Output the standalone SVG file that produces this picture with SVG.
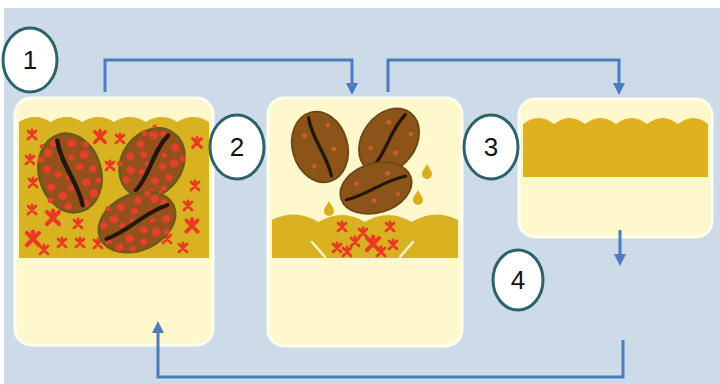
<svg xmlns="http://www.w3.org/2000/svg" xmlns:xlink="http://www.w3.org/1999/xlink" width="720" height="384" viewBox="0 0 720 384">
  <style>
    .panel { fill: #cddbe8; }
    .box { fill: #fff8cc; stroke: #fffdf0; stroke-width: 3; }
    .liquid { fill: #d9b222; }
    .liquid3 { fill: #dfb11f; }
    .conn { fill: none; stroke: #4a7cc2; stroke-width: 3; }
    .badge { fill: #ffffff; stroke: #2b6468; stroke-width: 3; }
    .num { font-family: "Liberation Sans", Arial, sans-serif; font-size: 26px; fill: #111111; text-anchor: middle; }
    .cross { fill: none; stroke: #ea3a24; stroke-width: 2.8; stroke-linecap: round; }
    .drop { fill: #d8ad22; }
    .splash { fill: none; stroke: #fff4c6; stroke-width: 2.5; stroke-linecap: round; }
  </style>
  <defs>
    <marker id="head" markerUnits="userSpaceOnUse" markerWidth="14" markerHeight="14" refX="7" refY="6" orient="auto">
      <path d="M0,0 L12,6 L0,12 Z" fill="#4a7cc2"/>
    </marker>
    <!-- red cross mark -->
    <path id="x" class="cross" d="M-4,-4 L4,4 M4,-4 L-4,4 M0,-5 L0,-3"/>
    <!-- soaked bean: brown with many red spots -->
    <g id="beanRed">
      <ellipse rx="28" ry="38" fill="#96501c" stroke="#6d5a18" stroke-width="2.5"/>
      <g fill="#e4402a">
        <circle cx="-14" cy="-24" r="4"/><circle cx="-19" cy="-9" r="3.6"/><circle cx="-7" cy="-31" r="3.2"/>
        <circle cx="9" cy="-27" r="3.8"/><circle cx="17" cy="-13" r="4"/><circle cx="21" cy="2" r="3.4"/>
        <circle cx="-20" cy="8" r="3.6"/><circle cx="-12" cy="19" r="4"/><circle cx="12" cy="13" r="3.8"/>
        <circle cx="16" cy="25" r="3.8"/><circle cx="-10" cy="30" r="3.4"/><circle cx="6" cy="32" r="3.2"/>
        <circle cx="-11" cy="-2" r="3.4"/><circle cx="10" cy="-3" r="3.4"/><circle cx="-3" cy="14" r="2.8"/>
        <circle cx="21" cy="-22" r="2.8"/><circle cx="-22" cy="-20" r="2.8"/><circle cx="-4" cy="-18" r="2.6"/>
        <circle cx="5" cy="-14" r="2.6"/><circle cx="-24" cy="20" r="2.6"/><circle cx="23" cy="14" r="2.6"/>
        <circle cx="3" cy="22" r="2.6"/><circle cx="-18" cy="-32" r="2"/><circle cx="-3" cy="4" r="2.4"/>
      </g>
      <path d="M-3,-33 C-6,-10 5,10 3,33" fill="none" stroke="#22170a" stroke-width="4" stroke-linecap="round"/>
    </g>
    <!-- dry bean: brown with a few spots -->
    <g id="beanDry">
      <ellipse rx="28" ry="38" fill="#8c5418" stroke="#6b4a16" stroke-width="2"/>
      <g fill="#c7602a">
        <circle cx="-12" cy="-16" r="2.6"/><circle cx="13" cy="6" r="2.6"/>
        <circle cx="-11" cy="18" r="2.4"/><circle cx="14" cy="-20" r="2.4"/>
      </g>
      <path d="M-3,-33 C-6,-10 5,10 3,33" fill="none" stroke="#22170a" stroke-width="3.5" stroke-linecap="round"/>
    </g>
    <path id="drop" class="drop" d="M0,-8 C2,-4 5,-1 5,2 A5,5 0 0 1 -5,2 C-5,-1 -2,-4 0,-8 Z"/>
  </defs>

  <rect width="720" height="384" fill="#ffffff"/>
  <rect class="panel" x="4" y="8" width="716" height="376"/>

  <!-- stage 1: beans soaking -->
  <g id="stage1">
    <rect class="box" x="15" y="98" width="198" height="247" rx="16"/>
    <path class="liquid" d="M19,258 L19,122 Q34.8,112 50.7,122 Q66.5,112 82.3,122 Q98.2,112 114,122 Q129.8,112 145.7,122 Q161.5,112 177.3,122 Q193.2,112 209,122 L209,258 Z"/>
    <g>
      <use href="#x" transform="translate(32,135)"/>
      <use href="#x" transform="translate(100,137) scale(1.3)"/>
      <use href="#x" transform="translate(120,139)"/>
      <use href="#x" transform="translate(197,143) scale(1.1)"/>
      <use href="#x" transform="translate(30,160)"/>
      <use href="#x" transform="translate(110,166)"/>
      <use href="#x" transform="translate(33,183)"/>
      <use href="#x" transform="translate(195,186)"/>
      <use href="#x" transform="translate(188,206)"/>
      <use href="#x" transform="translate(32,210)"/>
      <use href="#x" transform="translate(53,218) scale(1.5)"/>
      <use href="#x" transform="translate(78,224)"/>
      <use href="#x" transform="translate(192,226) scale(1.4)"/>
      <use href="#x" transform="translate(33,239) scale(1.5)"/>
      <use href="#x" transform="translate(62,243)"/>
      <use href="#x" transform="translate(80,243)"/>
      <use href="#x" transform="translate(98,244)"/>
      <use href="#x" transform="translate(167,239)"/>
      <use href="#x" transform="translate(183,248)"/>
      <use href="#x" transform="translate(44,250)"/>
    </g>
    <use href="#beanRed" transform="translate(70,173) rotate(-16) scale(1.1,1.05)"/>
    <use href="#beanRed" transform="translate(152,163) rotate(36) scale(1.07,0.97)"/>
    <use href="#beanRed" transform="translate(137,222) rotate(66) scale(1,1.05)"/>
  </g>

  <!-- stage 2: beans lifted out -->
  <g id="stage2">
    <rect class="box" x="268" y="98" width="194" height="248" rx="16"/>
    <path class="liquid" d="M272,258 L272,220 Q295.25,208 318.5,222 Q341.75,208 365,222 Q388.25,208 411.5,222 Q434.75,208 458,220 L458,258 Z"/>
    <path class="splash" d="M312,242 L325,257 M413,242 L400,257"/>
    <g>
      <use href="#x" transform="translate(342,227)"/>
      <use href="#x" transform="translate(363,233)"/>
      <use href="#x" transform="translate(390,227)"/>
      <use href="#x" transform="translate(337,248)"/>
      <use href="#x" transform="translate(355,242)"/>
      <use href="#x" transform="translate(373,244) scale(1.5)"/>
      <use href="#x" transform="translate(393,245)"/>
      <use href="#x" transform="translate(347,252)"/>
      <use href="#x" transform="translate(381,252)"/>
    </g>
    <use href="#drop" transform="translate(427,172)"/>
    <use href="#drop" transform="translate(418,198)"/>
    <use href="#drop" transform="translate(329,209)"/>
    <use href="#beanDry" transform="translate(320,147) rotate(-16) scale(0.98,0.94)"/>
    <use href="#beanDry" transform="translate(389,141) rotate(37) scale(0.95,0.93)"/>
    <use href="#beanDry" transform="translate(376,188) rotate(73) scale(0.88,0.96)"/>
  </g>

  <!-- stage 3: liquid only -->
  <g id="stage3">
    <rect class="box" x="519" y="99" width="193" height="138" rx="16"/>
    <path class="liquid3" d="M523,177 L523,124 Q538.5,112 554,124 Q569.5,112 585,124 Q600.5,112 616,124 Q631.5,112 647,124 Q662.5,112 678,124 Q693.5,112 708,124 L708,177 Z"/>
  </g>

  <!-- connectors -->
  <g id="connectors">
    <path class="conn" d="M105,92 V60 H352 V90" marker-end="url(#head)"/>
    <path class="conn" d="M388,92 V60 H619 V90" marker-end="url(#head)"/>
    <path class="conn" d="M620,230 V261" marker-end="url(#head)"/>
    <path class="conn" d="M623,340 V377 H158 V326" marker-end="url(#head)"/>
  </g>

  <!-- step numbers -->
  <g id="badge1"><ellipse class="badge" cx="30" cy="60" rx="27" ry="32"/><text class="num" x="30" y="69">1</text></g>
  <g id="badge2"><ellipse class="badge" cx="237" cy="147" rx="27" ry="32"/><text class="num" x="237" y="156">2</text></g>
  <g id="badge3"><ellipse class="badge" cx="491" cy="147" rx="27" ry="32"/><text class="num" x="491" y="156">3</text></g>
  <g id="badge4"><ellipse class="badge" cx="518" cy="280" rx="25" ry="30"/><text class="num" x="518" y="289">4</text></g>
</svg>
